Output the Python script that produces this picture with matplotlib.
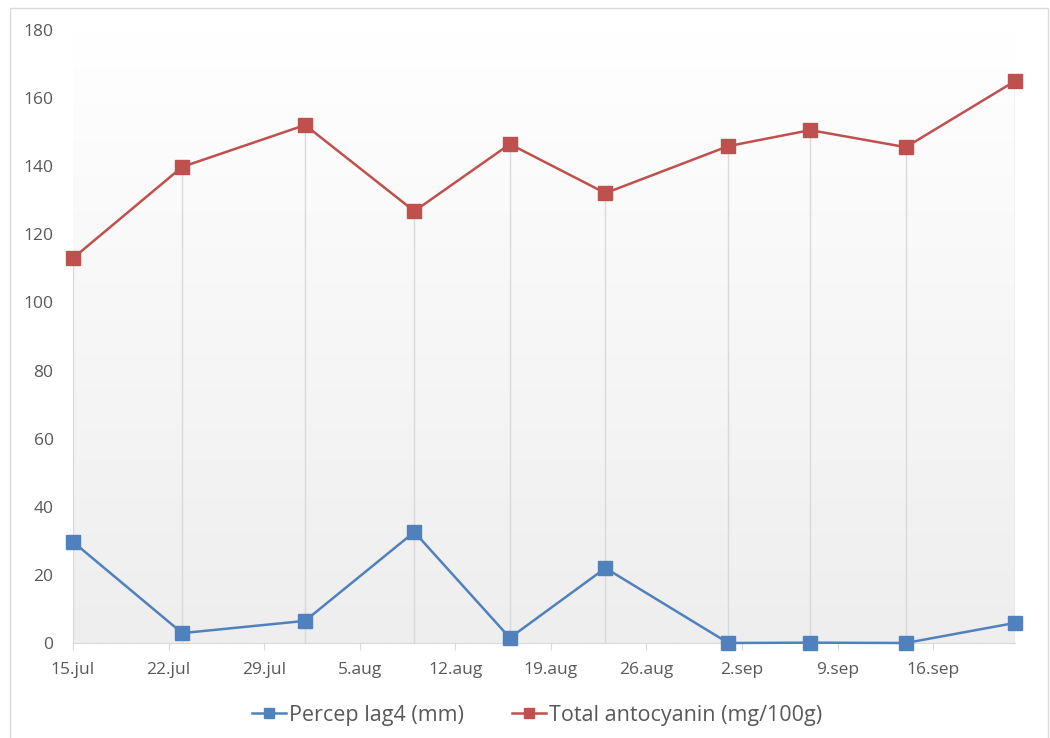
import datetime as dt
import numpy as np
import matplotlib
matplotlib.use("Agg")
import matplotlib.pyplot as plt
import matplotlib.dates as mdates
from matplotlib.ticker import FuncFormatter
from matplotlib.patches import Rectangle

# sampling dates and measured series
dates = [dt.date(2013, 7, 15), dt.date(2013, 7, 23), dt.date(2013, 8, 1),
         dt.date(2013, 8, 9), dt.date(2013, 8, 16), dt.date(2013, 8, 23),
         dt.date(2013, 9, 1), dt.date(2013, 9, 7), dt.date(2013, 9, 14),
         dt.date(2013, 9, 22)]
percep = [29.7, 2.9, 6.5, 32.6, 1.5, 22.0, 0.0, 0.1, 0.0, 5.9]
antocyanin = [113.0, 139.8, 152.1, 126.8, 146.5, 132.1, 145.9, 150.6, 145.6, 165.0]
labels = ["Percep lag4 (mm)", "Total antocyanin (mg/100g)"]

blue = "#4F81BD"
red = "#C0504D"
txt = "#595959"

plt.rcParams["font.family"] = ["Open Sans", "DejaVu Sans"]

fig = plt.figure(figsize=(10.5, 7.38), dpi=100)
ax = fig.add_axes([73 / 1050, 1 - 643 / 738, (1015 - 73) / 1050, (643 - 30) / 738])

# chart outline
fig.patches.append(Rectangle((10 / 1050, -0.01), 1038 / 1050, 1 - 8 / 738 + 0.01,
                             transform=fig.transFigure, fill=False,
                             edgecolor="#d9d9d9", lw=1))

# plot area gradient, white at top fading to light grey
grad = np.linspace(0, 1, 256).reshape(-1, 1)
cmap = matplotlib.colors.LinearSegmentedColormap.from_list("bg", ["#ffffff", "#eeeeee"])
ax.imshow(grad, aspect="auto", cmap=cmap, extent=[0, 1, 0, 1],
          transform=ax.transAxes, zorder=0)

x = mdates.date2num(dates)
ax.vlines(x, 0, antocyanin, color="#d9d9d9", lw=1, zorder=1)

ax.plot(x, percep, color=blue, lw=1.8, marker="s", ms=10,
        markerfacecolor=blue, markeredgecolor=blue, label=labels[0], zorder=3,
        clip_on=False)
ax.plot(x, antocyanin, color=red, lw=1.8, marker="s", ms=10,
        markerfacecolor=red, markeredgecolor=red, label=labels[1], zorder=3,
        clip_on=False)

ax.set_xlim(x[0], x[-1])
ax.set_ylim(0, 180)
ax.set_yticks(range(0, 181, 20))

week_ticks = np.arange(x[0], x[-1] + 0.5, 7)
ax.set_xticks(week_ticks)


def fmt_date(v, pos):
    d = mdates.num2date(v)
    return f"{d.day}.{d.strftime('%b').lower()}"


ax.xaxis.set_major_formatter(FuncFormatter(fmt_date))

for s in ["top", "right", "left"]:
    ax.spines[s].set_visible(False)
ax.spines["bottom"].set_color("#d9d9d9")
ax.spines["bottom"].set_zorder(2)
ax.tick_params(axis="y", length=0, pad=14, labelsize=12.5, labelcolor=txt)
ax.tick_params(axis="x", length=5, color="#d9d9d9", pad=9, labelsize=12.5, labelcolor=txt)

leg = fig.legend(loc="center", bbox_to_anchor=(0.5 + 12 / 1050, 1 - 715 / 738), ncol=2,
                 frameon=False, fontsize=15.5, handlelength=1.6, columnspacing=2.2,
                 handletextpad=0.15, markerscale=0.75)
for t in leg.get_texts():
    t.set_color(txt)

fig.savefig("out.png", dpi=100, facecolor="white")
